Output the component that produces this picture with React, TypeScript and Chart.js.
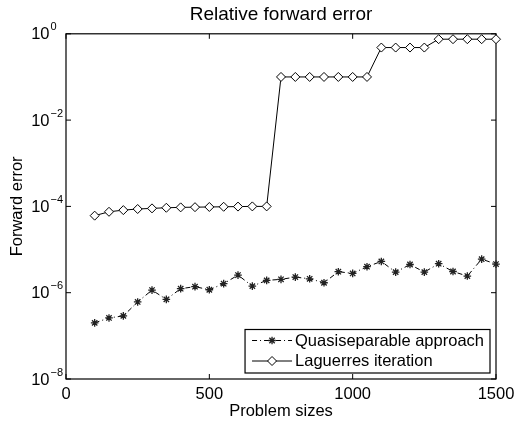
import React, { useEffect, useRef } from 'react';
import { Chart, registerables } from 'chart.js';

Chart.register(...registerables);

const FONT = 'Liberation Sans, Arial, Helvetica, sans-serif';

const chartTitle = 'Relative forward error';
const xAxisTitle = 'Problem sizes';
const yAxisTitle = 'Forward error';
const seriesLabels = ['Quasiseparable approach', 'Laguerres iteration'];

const problemSizes = [
  100, 150, 200, 250, 300, 350, 400, 450, 500, 550, 600, 650, 700, 750, 800,
  850, 900, 950, 1000, 1050, 1100, 1150, 1200, 1250, 1300, 1350, 1400, 1450, 1500,
];

const quasiseparable = [
  2.0e-7, 2.6e-7, 2.9e-7, 6.1e-7, 1.15e-6, 7.0e-7, 1.24e-6, 1.38e-6, 1.17e-6,
  1.62e-6, 2.56e-6, 1.42e-6, 1.93e-6, 2.04e-6, 2.3e-6, 2.1e-6, 1.7e-6, 3.07e-6,
  2.8e-6, 4.0e-6, 5.3e-6, 3.0e-6, 4.5e-6, 3.0e-6, 4.7e-6, 3.1e-6, 2.43e-6,
  6.0e-6, 4.6e-6,
];

const laguerre = [
  6.1e-5, 7.5e-5, 8.2e-5, 8.7e-5, 9.0e-5, 9.3e-5, 9.5e-5, 9.6e-5, 9.7e-5,
  9.8e-5, 9.9e-5, 1.0e-4, 1.0e-4, 0.1, 0.1, 0.1, 0.1, 0.1, 0.1, 0.1, 0.48,
  0.48, 0.48, 0.48, 0.75, 0.75, 0.75, 0.75, 0.75,
];

const xTickValues = [0, 500, 1000, 1500];
const yTickValues = [1e-8, 1e-6, 1e-4, 1e-2, 1];

function drawStar(ctx: CanvasRenderingContext2D, x: number, y: number, r: number) {
  ctx.beginPath();
  ctx.moveTo(x - r, y); ctx.lineTo(x + r, y);
  ctx.moveTo(x, y - r); ctx.lineTo(x, y + r);
  const d = r * Math.SQRT1_2;
  ctx.moveTo(x - d, y - d); ctx.lineTo(x + d, y + d);
  ctx.moveTo(x - d, y + d); ctx.lineTo(x + d, y - d);
  ctx.stroke();
}

function drawDiamond(ctx: CanvasRenderingContext2D, x: number, y: number, r: number) {
  ctx.beginPath();
  ctx.moveTo(x - r, y); ctx.lineTo(x, y - r); ctx.lineTo(x + r, y); ctx.lineTo(x, y + r);
  ctx.closePath();
  ctx.fillStyle = '#fff';
  ctx.fill();
  ctx.stroke();
}

const framePlugin = {
  id: 'matlabFrame',
  beforeDatasetsDraw(chart: any) {
    const { ctx, chartArea: ca, scales } = chart;
    ctx.save();
    ctx.strokeStyle = '#000';
    ctx.lineWidth = 1.2;
    ctx.strokeRect(ca.left, ca.top, ca.right - ca.left, ca.bottom - ca.top);
    ctx.lineWidth = 1;
    ctx.beginPath();
    for (const t of scales.x.ticks) {
      const px = scales.x.getPixelForValue(t.value);
      ctx.moveTo(px, ca.bottom); ctx.lineTo(px, ca.bottom - 5);
      ctx.moveTo(px, ca.top); ctx.lineTo(px, ca.top + 5);
    }
    for (const t of scales.y.ticks) {
      const py = scales.y.getPixelForValue(t.value);
      ctx.moveTo(ca.left, py); ctx.lineTo(ca.left + 5, py);
      ctx.moveTo(ca.right, py); ctx.lineTo(ca.right - 5, py);
    }
    ctx.stroke();
    ctx.restore();
  },
  afterDraw(chart: any) {
    const { ctx, chartArea: ca, scales } = chart;
    ctx.save();
    // y tick labels with superscript exponents
    ctx.fillStyle = '#000';
    for (const t of scales.y.ticks) {
      const py = scales.y.getPixelForValue(t.value);
      const exp = Math.round(Math.log10(t.value));
      const expText = exp < 0 ? '\u2212' + String(-exp) : String(exp);
      ctx.font = `16.5px ${FONT}`;
      ctx.textAlign = 'right';
      ctx.textBaseline = 'middle';
      ctx.fillText('10', ca.left - 16.5, py + 1);
      ctx.font = `11px ${FONT}`;
      ctx.textAlign = 'left';
      ctx.fillText(expText, ca.left - 15.5, py - 6.5);
    }

    // legend (southeast, inside axes)
    ctx.font = `16.5px ${FONT}`;
    const textW = Math.max(...seriesLabels.map((s) => ctx.measureText(s).width));
    const boxW = 50 + textW + 6;
    const boxH = 43.5;
    const right = ca.right - 6;
    const bottom = ca.bottom - 6;
    const left = right - boxW;
    const top = bottom - boxH;
    ctx.fillStyle = '#fff';
    ctx.fillRect(left, top, boxW, boxH);
    ctx.strokeStyle = '#000';
    ctx.lineWidth = 1.2;
    ctx.strokeRect(left, top, boxW, boxH);

    const rows = [top + 11, top + 31.5];
    chart.data.datasets.forEach((ds: any, i: number) => {
      const y = rows[i];
      ctx.save();
      ctx.strokeStyle = '#000';
      ctx.lineWidth = 1;
      ctx.setLineDash(ds.borderDash || []);
      ctx.beginPath();
      ctx.moveTo(left + 7, y);
      ctx.lineTo(left + 47, y);
      ctx.stroke();
      ctx.setLineDash([]);
      if (ds.pointStyle === 'star') {
        ctx.strokeStyle = ds.pointBorderColor;
        ctx.lineWidth = ds.pointBorderWidth;
        drawStar(ctx, left + 27, y, ds.pointRadius);
      } else {
        drawDiamond(ctx, left + 27, y, ds.pointRadius);
      }
      ctx.restore();
      ctx.fillStyle = '#000';
      ctx.textAlign = 'left';
      ctx.textBaseline = 'middle';
      ctx.font = `16.5px ${FONT}`;
      ctx.fillText(ds.label, left + 50, y + 0.5);
    });
    ctx.restore();
  },
};

export default function App() {
  const canvasRef = useRef<HTMLCanvasElement | null>(null);

  useEffect(() => {
    const canvas = canvasRef.current;
    if (!canvas) return;
    const chart = new Chart(canvas, {
      type: 'line',
      data: {
        datasets: [
          {
            label: seriesLabels[0],
            data: problemSizes.map((x, i) => ({ x, y: quasiseparable[i] })),
            borderColor: '#000',
            borderWidth: 1,
            borderDash: [5, 3, 1, 3],
            pointStyle: 'star',
            pointRadius: 3.8,
            pointBorderColor: '#222',
            pointBorderWidth: 1.3,
            pointBackgroundColor: '#222',
            fill: false,
            tension: 0,
            clip: false,
          } as any,
          {
            label: seriesLabels[1],
            data: problemSizes.map((x, i) => ({ x, y: laguerre[i] })),
            borderColor: '#000',
            borderWidth: 1,
            pointStyle: 'rectRot',
            pointRadius: 4.5,
            pointBorderColor: '#000',
            pointBorderWidth: 1,
            pointBackgroundColor: '#fff',
            fill: false,
            tension: 0,
            clip: false,
          } as any,
        ],
      },
      options: {
        responsive: false,
        animation: false,
        devicePixelRatio: 1,
        layout: { padding: { left: 0, right: 18, top: 0, bottom: 0 } },
        font: { family: FONT },
        plugins: {
          legend: { display: false },
          tooltip: { enabled: false },
          title: {
            display: true,
            text: chartTitle,
            fullSize: false,
            color: '#000',
            font: { family: FONT, size: 19, weight: 'normal' },
            padding: { top: 3, bottom: 8 },
          },
        },
        scales: {
          x: {
            type: 'linear',
            min: 0,
            max: 1500,
            afterBuildTicks: (scale: any) => {
              scale.ticks = xTickValues.map((v) => ({ value: v }));
            },
            afterFit: (scale: any) => {
              scale.height = 42;
              scale.paddingLeft = 0;
              scale.paddingRight = 0;
            },
            grid: { display: false, drawTicks: false },
            border: { display: false },
            ticks: {
              color: '#000',
              font: { family: FONT, size: 16.5 },
              padding: 6,
              maxRotation: 0,
              autoSkip: false,
              callback: (value: any) => String(value),
            },
            title: {
              display: true,
              text: xAxisTitle,
              color: '#000',
              font: { family: FONT, size: 16.5 },
              padding: { top: 0, bottom: 0 },
            },
          },
          y: {
            type: 'logarithmic',
            min: 1e-8,
            max: 1,
            afterBuildTicks: (scale: any) => {
              scale.ticks = yTickValues.map((v) => ({ value: v }));
            },
            afterFit: (scale: any) => {
              scale.width = 66;
              scale.paddingTop = 0;
              scale.paddingBottom = 0;
            },
            grid: { display: false, drawTicks: false },
            border: { display: false },
            ticks: { display: false },
            title: {
              display: true,
              text: yAxisTitle,
              color: '#000',
              font: { family: FONT, size: 16.5 },
              padding: { top: 8, bottom: 0 },
            },
          },
        },
      } as any,
      plugins: [framePlugin],
    });
    return () => chart.destroy();
  }, []);

  return (
    <div
      style={{
        position: 'fixed',
        left: 0,
        top: 0,
        width: 514,
        height: 421,
        background: '#fff',
      }}
    >
      <canvas ref={canvasRef} width={514} height={421} style={{ display: 'block' }} />
    </div>
  );
}
